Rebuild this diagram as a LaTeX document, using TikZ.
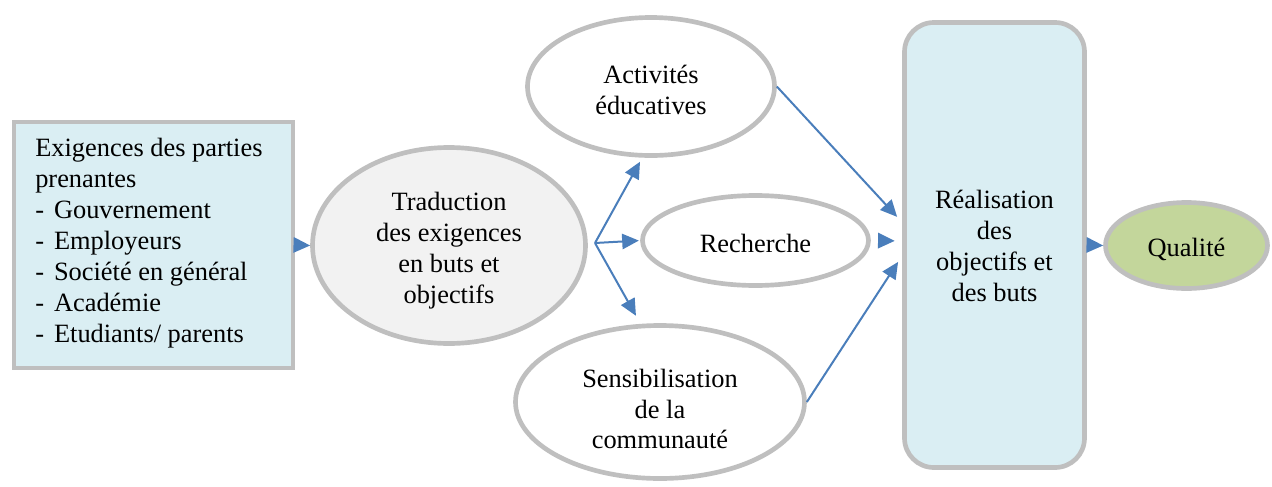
\documentclass[tikz,border=0pt]{standalone}
\usepackage{fontspec}
\setmainfont{Liberation Serif}
\usetikzlibrary{shapes.geometric,arrows.meta}

\definecolor{edgegray}{HTML}{BFBFBF}
\definecolor{paleblue}{HTML}{DAEEF3}
\definecolor{palegray}{HTML}{F2F2F2}
\definecolor{olive}{HTML}{C3D69B}
\definecolor{linkblue}{HTML}{4A7EBB}

\begin{document}
\begin{tikzpicture}[x=0.75pt,y=-0.75pt,
  every node/.style={font=\fontsize{19.8}{23.2}\selectfont, inner sep=0pt},
  plainbox/.style={rectangle, draw=edgegray, line width=3pt, fill=paleblue},
  roundbox/.style={rectangle, rounded corners=22pt, draw=edgegray, line width=3.5pt, fill=paleblue},
  oval/.style={ellipse, draw=edgegray, line width=3.5pt, fill=white},
  txt/.style={align=center},
  link/.style={draw=linkblue, line width=1.5pt, -{Triangle[length=12.5pt,width=11.5pt]}}
]
\useasboundingbox (0,0) rectangle (1272,486);

% shapes
\node[plainbox, minimum width=209.25pt, minimum height=184.5pt] (req) at (153.5,245) {};
\node[oval, fill=palegray, minimum width=204.75pt, minimum height=147pt] (trad) at (449,245.5) {};
\node[oval, minimum width=185.25pt, minimum height=103.5pt] (act) at (651,86.5) {};
\node[oval, minimum width=169.5pt, minimum height=67.5pt] (rech) at (755.5,240.5) {};
\node[oval, minimum width=216.75pt, minimum height=114.75pt] (sens) at (660,402) {};
\node[roundbox, minimum width=135pt, minimum height=333.75pt] (real) at (994.5,245) {};
\node[oval, fill=olive, minimum width=121.5pt, minimum height=64.5pt] (qual) at (1186.5,245.5) {};

% texts
\node[align=left, anchor=west] (reqtxt) at (35,243) {Exigences des parties\\prenantes\\-\hspace{7.5pt}Gouvernement\\-\hspace{7.5pt}Employeurs\\-\hspace{7.5pt}Société en général\\-\hspace{7.5pt}Académie\\-\hspace{7.5pt}Etudiants/ parents};
\node[txt] (tradtxt) at (449,251) {Traduction\\des exigences\\en buts et\\objectifs};
\node[txt] (acttxt) at (651,90) {Activités\\éducatives};
\node[txt] (rechtxt) at (755.5,243) {Recherche};
\node[txt] (senstxt) at (660,409) {Sensibilisation\\de la\\communauté};
\node[txt] (realtxt) at (994.5,246) {Réalisation\\des\\objectifs et\\des buts};
\node[txt] (qualtxt) at (1186.5,249) {Qualité};

% connectors
\coordinate (fan) at (595,243);
\coordinate (realA) at ([yshift=17pt]real.west);
\coordinate (realB) at ([yshift=3pt]real.west);
\coordinate (realC) at ([yshift=-8pt]real.west);

\draw[link] (req.east) -- (trad.west);
\draw[link, shorten >=3.5pt] (fan) -- (act.263.4);
\draw[link, shorten >=1pt] (fan) -- (rech.west);
\draw[link, shorten >=7pt] (fan) -- (sens.104.4);
\draw[link, shorten >=5.6pt] (act.east) -- (realA);
\draw[link, shorten <=5.6pt, shorten >=5.6pt] (rech.east) -- (realB);
\draw[link, shorten >=5.6pt] (sens.east) -- (realC);
\draw[link] (real.east) -- (qual.west);
\end{tikzpicture}
\end{document}
